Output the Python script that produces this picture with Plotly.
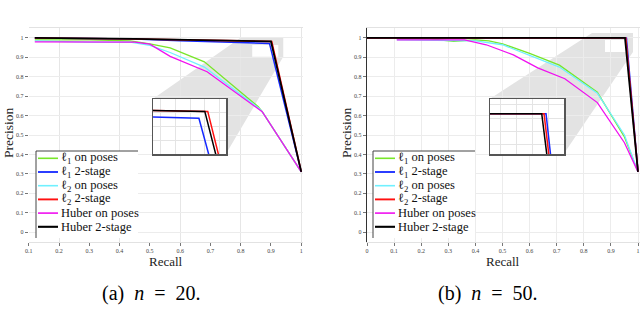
import plotly.graph_objects as go

# ---------------- data: panel (a) n = 20 ----------------
a_l1_poses_r = [0.12, 0.30, 0.435, 0.50, 0.567, 0.68, 0.858, 0.871, 1.0]
a_l1_poses_p = [0.99, 0.99, 0.985, 0.97, 0.949, 0.877, 0.646, 0.62, 0.31]
a_l1_2stage_r = [0.12, 0.45, 0.60, 0.895, 1.0]
a_l1_2stage_p = [1.0, 0.995, 0.985, 0.972, 0.31]
a_l2_poses_r = [0.12, 0.30, 0.435, 0.50, 0.567, 0.68, 0.862, 0.871, 1.0]
a_l2_poses_p = [0.985, 0.978, 0.978, 0.962, 0.925, 0.85, 0.635, 0.62, 0.31]
a_l2_2stage_r = [0.12, 0.45, 0.9025, 1.0]
a_l2_2stage_p = [1.0, 0.995, 0.982, 0.31]
a_hub_poses_r = [0.12, 0.30, 0.45, 0.50, 0.567, 0.689, 0.871, 1.0]
a_hub_poses_p = [0.98, 0.98, 0.978, 0.968, 0.905, 0.826, 0.62, 0.31]
a_hub_2stage_r = [0.12, 0.45, 0.90, 1.0]
a_hub_2stage_p = [1.0, 0.995, 0.982, 0.31]

# ---------------- data: panel (b) n = 50 ----------------
b_l1_poses_r = [0.11, 0.23, 0.32, 0.40, 0.45, 0.50, 0.60, 0.71, 0.85, 0.95, 1.0]
b_l1_poses_p = [0.995, 0.995, 0.983, 0.99, 0.985, 0.97, 0.92, 0.86, 0.72, 0.49, 0.31]
b_l1_2stage_r = [0.0, 0.9574, 1.0]
b_l1_2stage_p = [1.0, 1.0, 0.31]
b_l2_poses_r = [0.11, 0.40, 0.50, 0.60, 0.71, 0.85, 0.95, 1.0]
b_l2_poses_p = [0.99, 0.985, 0.965, 0.91, 0.85, 0.715, 0.50, 0.31]
b_l2_2stage_r = [0.0, 0.9549, 1.0]
b_l2_2stage_p = [1.0, 1.0, 0.31]
b_hub_poses_r = [0.11, 0.36, 0.44, 0.54, 0.63, 0.73, 0.85, 0.95, 1.0]
b_hub_poses_p = [0.99, 0.99, 0.965, 0.913, 0.846, 0.79, 0.667, 0.46, 0.31]
b_hub_2stage_r = [0.0, 0.952, 1.0]
b_hub_2stage_p = [1.0, 1.0, 0.31]

series_names = ["ℓ<sub>1</sub> on poses", "ℓ<sub>1</sub> 2-stage", "ℓ<sub>2</sub> on poses",
                "ℓ<sub>2</sub> 2-stage", "Huber on poses", "Huber 2-stage"]
series_colors = ["#78e62a", "#1428ff", "#70f0ff", "#ff1010", "#f010f0", "#000000"]
series_widths = [1.3, 1.5, 1.3, 1.6, 1.3, 1.8]

a_xticks = [0.1, 0.2, 0.3, 0.4, 0.5, 0.6, 0.7, 0.8, 0.9, 1.0]
a_xticklabels = ["0.1", "0.2", "0.3", "0.4", "0.5", "0.6", "0.7", "0.8", "0.9", "1"]
b_xticks = [0.0, 0.1, 0.2, 0.3, 0.4, 0.5, 0.6, 0.7, 0.8, 0.9, 1.0]
b_xticklabels = ["0", "0.1", "0.2", "0.3", "0.4", "0.5", "0.6", "0.7", "0.8", "0.9", "1"]
yticks = [0.0, 0.1, 0.2, 0.3, 0.4, 0.5, 0.6, 0.7, 0.8, 0.9, 1.0]
yticklabels = ["0", "0.1", "0.2", "0.3", "0.4", "0.5", "0.6", "0.7", "0.8", "0.9", "1"]

SP = "\u2002"
captions = [f"(a){SP}<i>n</i>{SP}={SP}20.", f"(b){SP}<i>n</i>{SP}={SP}50."]

# zoom source boxes & inset boxes in main-axis data coordinates
a_src = (0.7983, 0.9405, 0.9026, 1.0)      # x0, x1, y0, y1
a_inset = (0.5107, 0.7521, 0.4051, 0.6872)
a_src_white = (0.838, 0.924, 0.903, 0.964)
b_src = (0.8303, 0.9815, 0.9282, 1.0256)
b_inset = (0.4539, 0.7269, 0.4051, 0.6872)
b_src_white = (0.8782, 0.9631, 0.9282, 0.9897)
a_inset_xrange = [0.856, 0.918]
a_inset_yrange = [0.92, 1.0]
b_inset_xrange = [0.887, 0.98]
b_inset_yrange = [0.909, 1.033]

W, H = 640, 309
SERIF = "Liberation Serif, Times New Roman, serif"


def PX(x):
    return x / W


def PY(y):
    return 1 - y / H


panel_a = [(a_l1_poses_r, a_l1_poses_p), (a_l1_2stage_r, a_l1_2stage_p),
           (a_l2_poses_r, a_l2_poses_p), (a_l2_2stage_r, a_l2_2stage_p),
           (a_hub_poses_r, a_hub_poses_p), (a_hub_2stage_r, a_hub_2stage_p)]
panel_b = [(b_l1_poses_r, b_l1_poses_p), (b_l1_2stage_r, b_l1_2stage_p),
           (b_l2_poses_r, b_l2_poses_p), (b_l2_2stage_r, b_l2_2stage_p),
           (b_hub_poses_r, b_hub_poses_p), (b_hub_2stage_r, b_hub_2stage_p)]

fig = go.Figure()
for panel, (xa, ya), (xi, yi) in [(panel_a, ("x", "y"), ("x3", "y3")),
                                   (panel_b, ("x2", "y2"), ("x4", "y4"))]:
    for i, (r, p) in enumerate(panel):
        fig.add_trace(go.Scatter(x=r, y=p, mode="lines", xaxis=xa, yaxis=ya,
                                 line=dict(color=series_colors[i], width=series_widths[i]),
                                 showlegend=False, hoverinfo="skip"))
        fig.add_trace(go.Scatter(x=r, y=p, mode="lines", xaxis=xi, yaxis=yi,
                                 line=dict(color=series_colors[i], width=1.5),
                                 showlegend=False, hoverinfo="skip"))

tickfont = dict(family=SERIF, size=6, color="#444")
common_y = dict(range=[-0.05, 1.05], tickvals=yticks, ticktext=yticklabels,
                showgrid=True, gridcolor="#ececec", gridwidth=1, zeroline=False,
                ticks="outside", ticklen=3, tickcolor="#777", tickfont=tickfont,
                fixedrange=True, automargin=False)
ydom = [PY(241.75), PY(28.25)]

layout = dict(
    width=W, height=H, margin=dict(l=0, r=0, t=0, b=0, pad=0, autoexpand=False),
    paper_bgcolor="white", plot_bgcolor="white", showlegend=False,
    xaxis=dict(domain=[PX(28.75), PX(302.5)], range=[0.1, 1.0041], anchor="y",
               tickvals=a_xticks, ticktext=a_xticklabels, showgrid=False,
               minor=dict(tickvals=[0.2, 0.4, 0.6, 0.8, 1.0], showgrid=True,
                          gridcolor="#e6e6e6", ticks=""),
               ticks="outside", ticklen=3, tickcolor="#777", tickfont=tickfont,
               showline=True, mirror=True, linecolor="#e2e2e2", zeroline=False,
               fixedrange=True, automargin=False),
    yaxis=dict(domain=ydom, anchor="x", **common_y),
    xaxis2=dict(domain=[PX(367), PX(640)], range=[0, 273 / 271], anchor="y2",
                tickvals=b_xticks, ticktext=b_xticklabels, showgrid=True,
                gridcolor="#ececec", ticks="outside", ticklen=3, tickcolor="#777",
                tickfont=tickfont, showline=True, mirror=True, linecolor="#e2e2e2",
                zeroline=False, fixedrange=True, automargin=False),
    yaxis2=dict(domain=ydom, anchor="x2", showline=True, linecolor="#333",
                linewidth=1.2, **common_y),
)
for k, xdom, xr, yr, dx, dy in [(3, [153, 226], a_inset_xrange, a_inset_yrange, 0.0125, 0.02),
                                (4, [490, 564], b_inset_xrange, b_inset_yrange, 0.02, 0.03)]:
    box = dict(showline=True, mirror=True, linecolor="#555", linewidth=1.5,
               showticklabels=False, ticks="", zeroline=False, showgrid=True,
               gridcolor="#e4e4e4", fixedrange=True, automargin=False)
    layout[f"xaxis{k}"] = dict(domain=[PX(xdom[0]), PX(xdom[1])], range=xr,
                               anchor=f"y{k}", dtick=dx, **box)
    layout[f"yaxis{k}"] = dict(domain=[PY(154), PY(99)], range=yr,
                               anchor=f"x{k}", dtick=dy, **box)
fig.update_layout(**layout)

shapes = []
for xr_, yr_, src, ins, wh in [("x", "y", a_src, a_inset, a_src_white),
                               ("x2", "y2", b_src, b_inset, b_src_white)]:
    pts = [(ins[0], ins[3]), (src[0], src[3]), (src[1], src[3]), (src[1], src[2]),
           (ins[1], ins[2]), (ins[0], ins[2])]
    path = "M " + " L ".join(f"{x},{y}" for x, y in pts) + " Z"
    shapes.append(dict(type="path", path=path, xref=xr_, yref=yr_, layer="below",
                       fillcolor="#e3e3e3", line=dict(width=0)))
    shapes.append(dict(type="rect", x0=wh[0], x1=wh[1], y0=wh[2], y1=wh[3],
                       xref=xr_, yref=yr_, layer="below", fillcolor="white",
                       line=dict(width=0)))

annotations = []
for lx, lx1 in [(36, 138), (373, 475)]:
    shapes.append(dict(type="rect", xref="paper", yref="paper", x0=PX(lx), x1=PX(lx1),
                       y0=PY(238), y1=PY(151), fillcolor="white", line=dict(width=0),
                       layer="above"))
    shapes.append(dict(type="line", xref="paper", yref="paper", x0=PX(lx), x1=PX(lx1),
                       y0=PY(151), y1=PY(151), line=dict(color="#444", width=1),
                       layer="above"))
    shapes.append(dict(type="line", xref="paper", yref="paper", x0=PX(lx), x1=PX(lx),
                       y0=PY(151), y1=PY(238), line=dict(color="#444", width=1),
                       layer="above"))
    for i, name in enumerate(series_names):
        yy = 158.3 + i * 13.7
        shapes.append(dict(type="line", xref="paper", yref="paper", x0=PX(lx + 2),
                           x1=PX(lx + 22), y0=PY(yy), y1=PY(yy),
                           line=dict(color=series_colors[i], width=series_widths[i] + 0.3),
                           layer="above"))
        annotations.append(dict(xref="paper", yref="paper", x=PX(lx + 22.5), y=PY(yy),
                                text=name, showarrow=False, xanchor="left",
                                yanchor="middle",
                                font=dict(family=SERIF, size=12.5, color="#111")))

for cx, px_ in [(166, 8), (503, 346)]:
    annotations.append(dict(xref="paper", yref="paper", x=PX(cx), y=PY(261),
                            text="Recall", showarrow=False, xanchor="center",
                            yanchor="middle", font=dict(family=SERIF, size=13, color="#222")))
    annotations.append(dict(xref="paper", yref="paper", x=PX(px_), y=PY(133),
                            text="Precision", showarrow=False, textangle=-90,
                            xanchor="center", yanchor="middle",
                            font=dict(family=SERIF, size=13.5, color="#222")))
for cx, cap in [(151, captions[0]), (488, captions[1])]:
    annotations.append(dict(xref="paper", yref="paper", x=PX(cx), y=PY(293),
                            text=cap, showarrow=False, xanchor="center",
                            yanchor="middle", font=dict(family=SERIF, size=20, color="#000")))

fig.update_layout(shapes=shapes, annotations=annotations)
fig.write_html("out.html", config={"displayModeBar": False, "staticPlot": True},
               post_script="document.body.style.margin='0';document.body.style.padding='0';")
